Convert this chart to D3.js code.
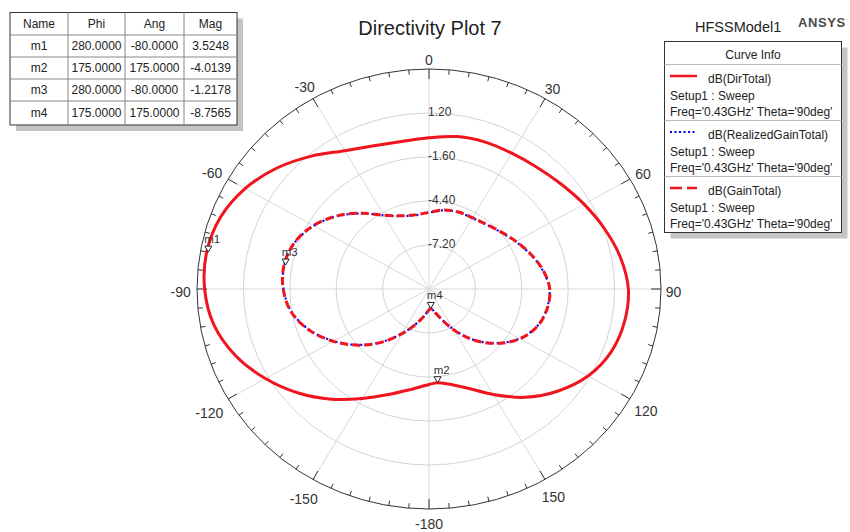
<!DOCTYPE html>
<html>
<head>
<meta charset="utf-8">
<script src="https://cdn.jsdelivr.net/npm/d3@7/dist/d3.min.js"></script>
<style>
body { margin: 0; background: #fff; }
text { font-family: Arial, "Liberation Sans", sans-serif; fill: #222; }
</style>
</head>
<body>
<svg id="chart" width="850" height="532"></svg>
<script>
// ---- data ----
var angles = [-180, -170, -160, -150, -140, -130, -120, -110, -100, -90, -80, -70, -60, -50, -40, -30, -20, -10,
    0, 10, 20, 30, 40, 50, 60, 70, 80, 90, 100, 110, 120, 130, 140, 150, 160, 170, 175];
var dirTotal = [-3.92, -3.50, -2.85, -1.96, -0.85, 0.30, 1.40, 2.42, 3.18, 3.54, 3.62, 3.38, 2.80, 1.98, 1.04, 0.16, -0.30, -0.47,
    -0.38, -0.15, -0.05, -0.02, 0.12, 0.40, 0.80, 1.26, 1.72, 2.03, 1.98, 1.70, 1.08, 0.12, -1.00, -2.25, -3.30, -3.88, -4.01];
var realizedGainTotal = [-8.68, -8.26, -7.61, -6.72, -5.61, -4.46, -3.36, -2.34, -1.58, -1.22, -1.14, -1.38, -1.96, -2.78, -3.72, -4.60, -5.06, -5.23,
    -5.14, -4.91, -4.81, -4.78, -4.64, -4.36, -3.96, -3.50, -3.04, -2.73, -2.78, -3.06, -3.68, -4.64, -5.76, -7.01, -8.06, -8.64, -8.77];
var gainTotal = [-8.66, -8.24, -7.59, -6.70, -5.59, -4.44, -3.34, -2.32, -1.56, -1.20, -1.12, -1.36, -1.94, -2.76, -3.70, -4.58, -5.04, -5.21,
    -5.12, -4.89, -4.79, -4.76, -4.62, -4.34, -3.94, -3.48, -3.02, -2.71, -2.76, -3.04, -3.66, -4.62, -5.74, -6.99, -8.04, -8.62, -8.75];

var ringValues = [1.2, -1.6, -4.4, -7.2];
var ringLabels = ["1.20", "-1.60", "-4.40", "-7.20"];
var angleTicks = [0, 30, 60, 90, 120, 150, 180, -150, -120, -90, -60, -30];
var angleTickLabels = ["0", "30", "60", "90", "120", "150", "-180", "-150", "-120", "-90", "-60", "-30"];

var markerNames = ["m1", "m2", "m3", "m4"];
var markerPhi = ["280.0000", "175.0000", "280.0000", "175.0000"];
var markerAng = [-80, 175, -80, 175];
var markerAngText = ["-80.0000", "175.0000", "-80.0000", "175.0000"];
var markerMag = [3.5248, -4.0139, -1.2178, -8.7565];
var markerMagText = ["3.5248", "-4.0139", "-1.2178", "-8.7565"];

var curveNames = ["dB(DirTotal)", "dB(RealizedGainTotal)", "dB(GainTotal)"];
var curveSetup = "Setup1 : Sweep";
var curveFreq = "Freq='0.43GHz' Theta='90deg'";

// ---- layout ----
var svg = d3.select("#chart");
var cx = 429, cy = 289, rx = 232, ry = 220;
var red = "#f0141e", blue = "#0000ff";

var rScale = d3.scaleLinear().domain([-10, 4]).range([0, 1]);
var aScale = d3.scaleLinear().domain([-180, 180]).range([-Math.PI, Math.PI]);

function px(a, v) { return cx + rScale(v) * rx * Math.sin(aScale(a)); }
function py(a, v) { return cy - rScale(v) * ry * Math.cos(aScale(a)); }

// title block
svg.append("text").attr("x", 430).attr("y", 35).attr("text-anchor", "middle")
    .style("font-size", "20px").text("Directivity Plot 7");
svg.append("text").attr("x", 695).attr("y", 32).style("font-size", "14.5px").text("HFSSModel1");
svg.append("text").attr("x", 798).attr("y", 27).style("font-size", "13px").style("font-weight", "bold")
    .style("fill", "#4a4a4a").style("letter-spacing", "0.6px").text("ANSYS");

// ---- polar grid ----
var grid = svg.append("g");

grid.selectAll(".ring").data(ringValues).enter().append("ellipse")
    .attr("cx", cx).attr("cy", cy)
    .attr("rx", function (d) { return rScale(d) * rx; })
    .attr("ry", function (d) { return rScale(d) * ry; })
    .attr("fill", "none").attr("stroke", "#d4d4d4").attr("stroke-width", 1);

grid.selectAll(".spoke").data(d3.range(-180, 180, 30)).enter().append("line")
    .attr("x1", cx).attr("y1", cy)
    .attr("x2", function (d) { return px(d, 4); })
    .attr("y2", function (d) { return py(d, 4); })
    .attr("stroke", "#d8d8d8").attr("stroke-width", 1);

grid.append("ellipse").attr("cx", cx).attr("cy", cy).attr("rx", rx).attr("ry", ry)
    .attr("fill", "none").attr("stroke", "#333").attr("stroke-width", 1);

// ticks every 5 deg, longer on 30 deg
grid.selectAll(".tick").data(d3.range(-180, 180, 5)).enter().append("line")
    .attr("x1", function (d) { return px(d, 4); })
    .attr("y1", function (d) { return py(d, 4); })
    .attr("x2", function (d) {
        var L = d % 30 === 0 ? 10 : 5;
        return cx + (rx - L) * Math.sin(aScale(d));
    })
    .attr("y2", function (d) {
        var L = d % 30 === 0 ? 10 : 5;
        return cy - (ry - L) * Math.cos(aScale(d));
    })
    .attr("stroke", "#333").attr("stroke-width", 1);

// angle labels
grid.selectAll(".alabel").data(angleTicks).enter().append("text")
    .attr("text-anchor", "middle").attr("dominant-baseline", "central")
    .style("font-size", "14px").style("fill", "#333")
    .each(function (d, i) {
        var t = angleTickLabels[i];
        var s = Math.sin(aScale(d)), c = Math.cos(aScale(d));
        var w = t.length * 7.6;
        var off = 5 + Math.abs(s) * w / 2 + Math.abs(c) * 7;
        d3.select(this)
            .attr("x", px(d, 4) + s * off)
            .attr("y", py(d, 4) - c * off + 3)
            .text(t);
    });

// radial labels
grid.selectAll(".rlabel").data(ringValues).enter().append("text")
    .attr("x", cx - 1)
    .attr("y", function (d) { return cy - rScale(d) * ry - 1.5; })
    .attr("dominant-baseline", "central")
    .style("font-size", "12px").style("fill", "#333")
    .text(function (d, i) { return ringLabels[i]; });

// ---- curves ----
var line = d3.line()
    .x(function (d) { return px(d[0], d[1]); })
    .y(function (d) { return py(d[0], d[1]); })
    .curve(d3.curveCatmullRomClosed.alpha(0.5));

function pts(vals) { return angles.map(function (a, i) { return [a, vals[i]]; }); }

svg.append("path").attr("d", line(pts(dirTotal)))
    .attr("fill", "none").attr("stroke", red).attr("stroke-width", 3);
svg.append("path").attr("d", line(pts(realizedGainTotal)))
    .attr("fill", "none").attr("stroke", blue).attr("stroke-width", 2.2).attr("stroke-dasharray", "2,3");
svg.append("path").attr("d", line(pts(gainTotal)))
    .attr("fill", "none").attr("stroke", red).attr("stroke-width", 3).attr("stroke-dasharray", "8,4");

// ---- markers ----
var mk = svg.append("g").selectAll(".marker").data(markerNames).enter().append("g");
mk.append("path").attr("d", function (d, i) {
    var x = px(markerAng[i], markerMag[i]), y = py(markerAng[i], markerMag[i]);
    return "M" + (x - 3.5) + "," + (y - 6) + "L" + (x + 3.5) + "," + (y - 6) + "L" + x + "," + y + "Z";
}).attr("fill", "#fff").attr("stroke", "#222").attr("stroke-width", 1);
mk.append("text")
    .attr("x", function (d, i) { return px(markerAng[i], markerMag[i]) - 4; })
    .attr("y", function (d, i) { return py(markerAng[i], markerMag[i]) - 9; })
    .style("font-size", "11.5px").style("fill", "#333")
    .text(function (d) { return d; });

// ---- marker table ----
var colX = [10, 68, 125, 184, 237];
var rowY = [12.5, 35, 57, 79, 101, 125];
var table = svg.append("g");
table.append("rect").attr("x", colX[0] + 6).attr("y", rowY[0] + 6)
    .attr("width", colX[4] - colX[0]).attr("height", rowY[5] - rowY[0]).attr("fill", "#c4c4c4");
table.append("rect").attr("x", colX[0]).attr("y", rowY[0])
    .attr("width", colX[4] - colX[0]).attr("height", rowY[5] - rowY[0])
    .attr("fill", "#fff").attr("stroke", "#333").attr("stroke-width", 1);
colX.slice(1, 4).forEach(function (x) {
    table.append("line").attr("x1", x).attr("x2", x).attr("y1", rowY[0]).attr("y2", rowY[5])
        .attr("stroke", "#888").attr("stroke-width", 1);
});
rowY.slice(1, 5).forEach(function (y) {
    table.append("line").attr("x1", colX[0]).attr("x2", colX[4]).attr("y1", y).attr("y2", y)
        .attr("stroke", "#888").attr("stroke-width", 1);
});
var tableRows = [["Name", "Phi", "Ang", "Mag"]];
markerNames.forEach(function (n, i) {
    tableRows.push([n, markerPhi[i], markerAngText[i], markerMagText[i]]);
});
tableRows.forEach(function (row, r) {
    row.forEach(function (cell, c) {
        table.append("text")
            .attr("x", (colX[c] + colX[c + 1]) / 2)
            .attr("y", (rowY[r] + rowY[r + 1]) / 2)
            .attr("text-anchor", "middle").attr("dominant-baseline", "central")
            .style("font-size", "12px").text(cell);
    });
});

// ---- curve info legend ----
var lg = svg.append("g");
var lx = 664.5, ly = 41.5, lw = 177, lh = 191;
lg.append("rect").attr("x", lx + 6).attr("y", ly + 6).attr("width", lw).attr("height", lh).attr("fill", "#c4c4c4");
lg.append("rect").attr("x", lx).attr("y", ly).attr("width", lw).attr("height", lh)
    .attr("fill", "#fff").attr("stroke", "#333").attr("stroke-width", 1);
lg.append("text").attr("x", lx + lw / 2).attr("y", 55).attr("text-anchor", "middle")
    .attr("dominant-baseline", "central").style("font-size", "12px").text("Curve Info");

var sepY = [64.5, 120.5, 176.5];
var styles = [
    { color: red, width: 2.5, dash: null },
    { color: blue, width: 2.2, dash: "2,2.5" },
    { color: red, width: 2.5, dash: "12,5" }
];
sepY.forEach(function (y, i) {
    lg.append("line").attr("x1", lx).attr("x2", lx + lw).attr("y1", y).attr("y2", y)
        .attr("stroke", "#bbb").attr("stroke-width", 1);
    var s = styles[i];
    var ln = lg.append("line").attr("x1", 670).attr("x2", 697).attr("y1", y + 11.5).attr("y2", y + 11.5)
        .attr("stroke", s.color).attr("stroke-width", s.width);
    if (s.dash) ln.attr("stroke-dasharray", s.dash);
    lg.append("text").attr("x", 708).attr("y", y + 14.5).attr("dominant-baseline", "central")
        .style("font-size", "12px").text(curveNames[i]);
    lg.append("text").attr("x", 670).attr("y", y + 31).attr("dominant-baseline", "central")
        .style("font-size", "12px").text(curveSetup);
    lg.append("text").attr("x", 670).attr("y", y + 47).attr("dominant-baseline", "central")
        .style("font-size", "12px").text(curveFreq);
});
</script>
</body>
</html>
